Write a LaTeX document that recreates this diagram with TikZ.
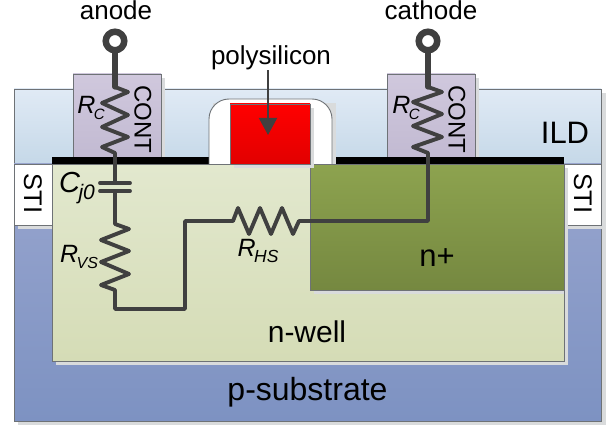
\documentclass[tikz,border=0pt]{standalone}
\usepackage{fontspec}
\setmainfont{Liberation Sans}
\usetikzlibrary{arrows.meta,shadings}
\definecolor{wirecolor}{HTML}{404040}
\definecolor{edgecolor}{HTML}{6E7276}
\definecolor{shadecolor}{HTML}{D9DBDC}
\newcommand{\lowsub}[2]{\kern-1.5pt\raisebox{-0.26em}{\fontsize{#1}{#1}\selectfont #2}}
\tikzset{
	layer/.style={draw=edgecolor, line width=0.9pt},
	wire/.style={draw=wirecolor, line width=3.9pt, line join=round, line cap=round},
	lead/.style={draw=wirecolor, line width=5.2pt, line cap=round},
	terminal/.style={circle, draw=wirecolor, line width=6.5pt, fill=white, minimum size=18.5pt, inner sep=0pt},
	label/.style={inner sep=0pt, font=\fontsize{26}{26}\selectfont},
	biglabel/.style={inner sep=0pt, font=\fontsize{31}{31}\selectfont},
	param/.style={inner sep=0pt, font=\fontsize{25}{25}\selectfont\itshape},
	vertlabel/.style={inner sep=0pt, rotate=-90, font=\fontsize{24}{24}\selectfont},
	stilabel/.style={vertlabel, font=\fontsize{25.5}{25.5}\selectfont},
}
\begin{document}
\begin{tikzpicture}[x=1pt,y=-1pt]
	\useasboundingbox (0,0) rectangle (608,425);
	% substrate and oxide
	\fill[shadecolor] (18,93) rectangle (606,425);
	\draw[layer, shade, top color={rgb,255:red,224;green,234;blue,245}, bottom color={rgb,255:red,197;green,216;blue,232}] (14,89) rectangle (601,164);
	\draw[layer, shade, top color={rgb,255:red,152;green,165;blue,206}, bottom color={rgb,255:red,125;green,146;blue,194}] (14,164) rectangle (601,421);
	% sti
	\fill[shadecolor] (18,168) rectangle (57,229);
	\fill[shadecolor] (568,168) rectangle (605,229);
	\draw[layer, fill=white] (14,164) rectangle (52,225);
	\draw[layer, fill=white] (564,164) rectangle (601,225);
	\node[stilabel] (stileft) at (33,193.5) {STI};
	\node[stilabel] (stiright) at (583,193.5) {STI};
	% n-well and n+
	\fill[shadecolor] (56,168) rectangle (568,365);
	\draw[layer, shade, top color={rgb,255:red,226;green,232;blue,206}, bottom color={rgb,255:red,213;green,220;blue,182}] (52,164) rectangle (564,361);
	\fill[shadecolor] (314,168) rectangle (564,294);
	\draw[layer, shade, top color={rgb,255:red,141;green,163;blue,79}, bottom color={rgb,255:red,117;green,136;blue,64}] (310,164) rectangle (564,290);
	% contacts
	\fill[shadecolor] (77,78) rectangle (165,157);
	\fill[shadecolor] (391,78) rectangle (479,157);
	\draw[layer, shade, top color={rgb,255:red,208;green,200;blue,221}, bottom color={rgb,255:red,194;green,186;blue,210}] (73,74) rectangle (161,157);
	\draw[layer, shade, top color={rgb,255:red,208;green,200;blue,221}, bottom color={rgb,255:red,194;green,186;blue,210}] (387,74) rectangle (475,157);
	\fill[black] (52,157) rectangle (209,164);
	\fill[black] (336,157) rectangle (564,164);
	% gate
	\fill[shadecolor] (213,103) rectangle (336,164);
	\draw[layer, fill=white] (209,164) -- (209,119) arc[start angle=180, end angle=270, radius=20] -- (312,99) arc[start angle=270, end angle=360, radius=20] -- (332,164);
	\fill[shadecolor] (234,108) rectangle (314,168);
	\draw[layer, shade, top color=red, bottom color={rgb,255:red,226;green,0;blue,0}] (230,104) rectangle (310,164);
	% texts
	\node[label] (anodetext) at (116,10.5) {anode};
	\node[label] (cathodetext) at (431,10.5) {cathode};
	\node[label] (polytext) at (271,58) {polysilicon};
	\node[biglabel] (ildtext) at (565,133) {ILD};
	\node[biglabel] (nplustext) at (437,258) {n+};
	\node[biglabel, font=\fontsize{30}{30}\selectfont] (nwelltext) at (307,332) {n-well};
	\node[biglabel, font=\fontsize{32}{32}\selectfont] (psubtext) at (307.5,392) {p-substrate};
	\node[vertlabel] (contleft) at (143,119) {CONT};
	\node[vertlabel] (contright) at (457,119) {CONT};
	\node[param] (rcleft) at (91,108) {R\lowsub{15}{C}};
	\node[param] (rcright) at (406,108) {R\lowsub{15}{C}};
	\node[param, font=\fontsize{29}{29}\selectfont\itshape] (cjtext) at (77,188) {C\lowsub{21}{j0}};
	\node[param] (rvstext) at (79,257) {R\lowsub{16}{VS}};
	\node[param] (rhstext) at (258,251) {R\lowsub{17.5}{HS}};
	% arrow
	\coordinate (polyhead) at (268,135);
	\draw[-{Triangle[length=17pt,width=18pt]}, wirecolor, line width=2pt] (polytext.south -| polyhead) -- (polyhead);
	% terminals
	\coordinate (anodein) at (115,87);
	\coordinate (cathodein) at (428,87);
	\coordinate (plateup) at (115,183);
	\coordinate (platedown) at (115,191);
	\node[terminal] (anode) at (115,41) {};
	\node[terminal] (cathode) at (428,41) {};
	\draw[lead] (anode) -- (anodein);
	\draw[lead] (cathode) -- (cathodein);
	% anode side
	\draw[wire] (anodein) -- (128,92) -- (102,103) -- (128,115) -- (102,127) -- (128,137) -- (102,147) -- (115,153) -- (plateup);
	\draw[wire] ([xshift=-15pt]plateup) -- ([xshift=15pt]plateup);
	\draw[wire] ([xshift=-15pt]platedown) -- ([xshift=15pt]platedown);
	\draw[wire] (platedown) -- (115,224) -- (129,229) -- (101,240) -- (129,251) -- (101,262) -- (129,274) -- (101,285) -- (115,290) -- (115,309) -- (185,309) -- (185,221) -- (233,221) -- (238,208) -- (249,234) -- (260,208) -- (271,234) -- (282,208) -- (293,234) -- (299,221) -- (428,221) -- (428,153) -- (413,147) -- (442,137) -- (413,126) -- (442,114) -- (413,102) -- (442,92) -- (cathodein);
\end{tikzpicture}
\end{document}
